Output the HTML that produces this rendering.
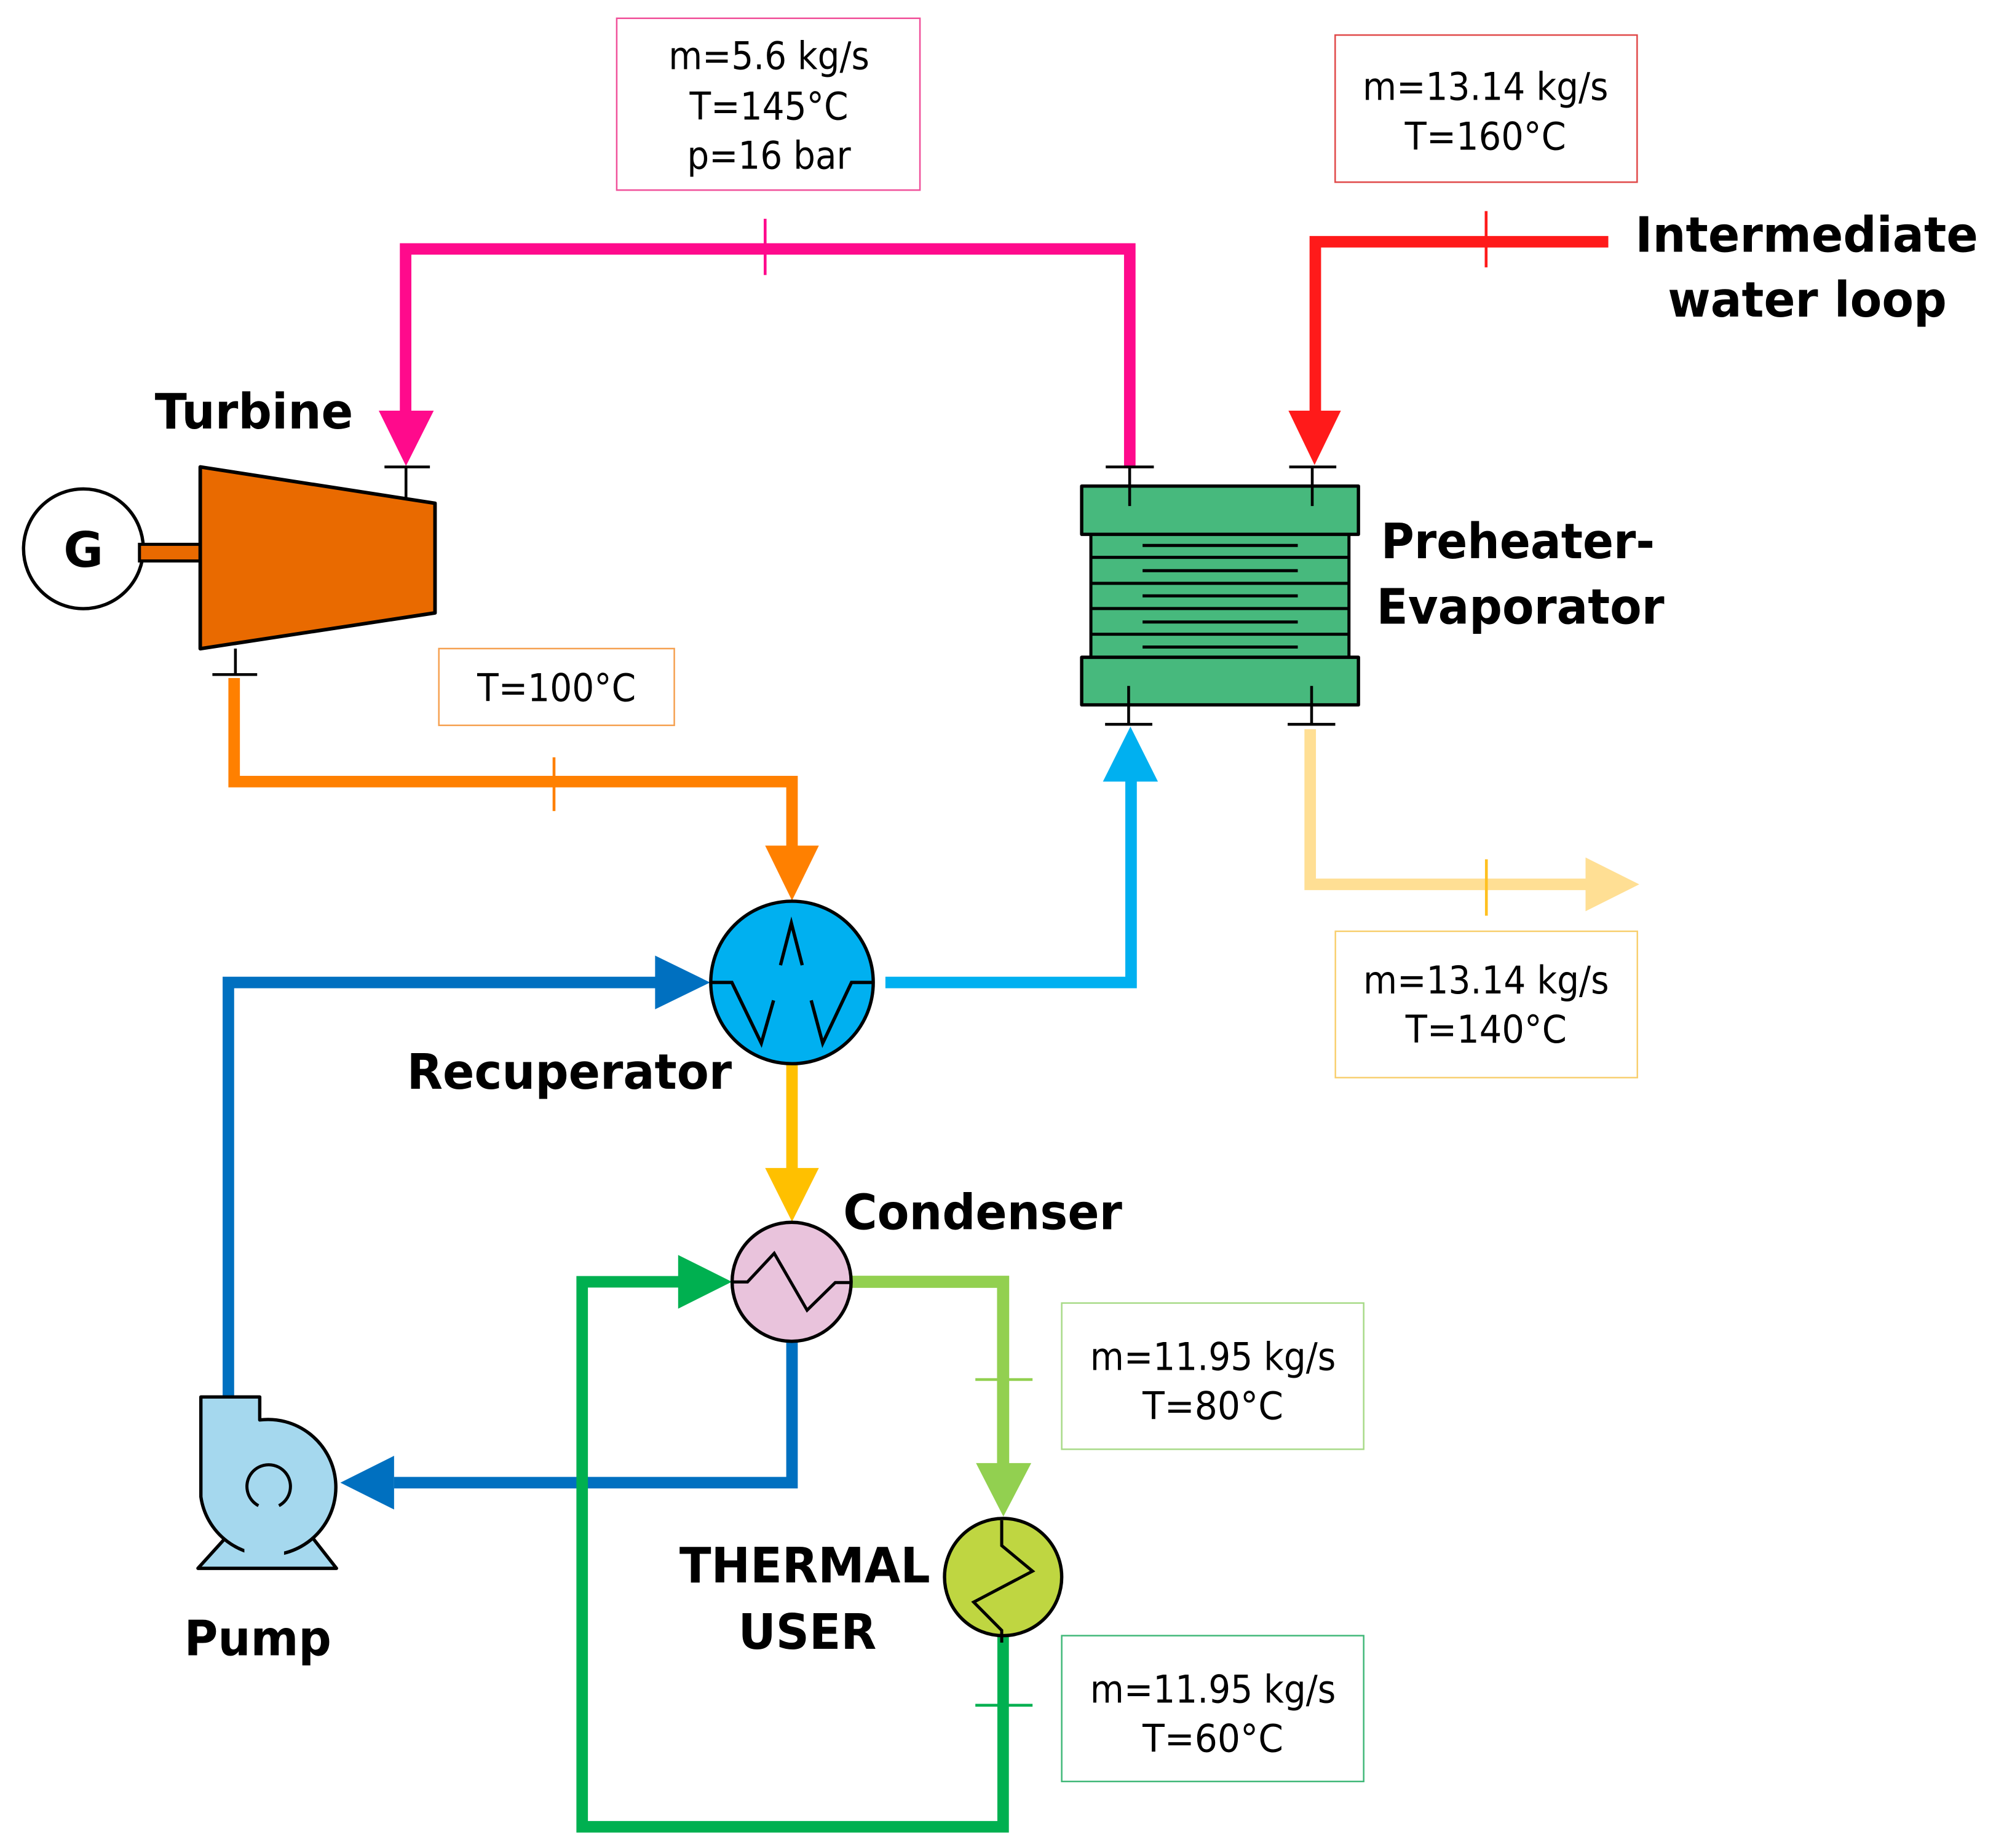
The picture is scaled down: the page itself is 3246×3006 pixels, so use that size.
<!DOCTYPE html>
<html><head><meta charset="utf-8"><style>
html,body{margin:0;padding:0;background:#fff;}
svg{display:block;}
.b{font-family:"DejaVu Sans","Liberation Sans",sans-serif;font-weight:bold;font-size:38px;fill:#000;}
.t{font-family:"DejaVu Sans","Liberation Sans",sans-serif;font-size:30px;fill:#000;text-anchor:middle;}
</style></head><body>
<svg width="3246" height="3006" viewBox="0 0 1560 1444.6" preserveAspectRatio="none" xmlns="http://www.w3.org/2000/svg">
<rect width="1560" height="1444.6" fill="#fff"/>

<!-- Boxes -->
<rect x="482" y="14.3" width="237" height="134.3" fill="none" stroke="#F0509A" stroke-width="1.2"/>
<text class="t" x="601" y="54" textLength="157" lengthAdjust="spacingAndGlyphs">m=5.6 kg/s</text>
<text class="t" x="601" y="93.5" textLength="124" lengthAdjust="spacingAndGlyphs">T=145°C</text>
<text class="t" x="601" y="132" textLength="128" lengthAdjust="spacingAndGlyphs">p=16 bar</text>

<rect x="1043.5" y="27.4" width="236" height="115" fill="none" stroke="#E04848" stroke-width="1.2"/>
<text class="t" x="1161" y="78" textLength="192" lengthAdjust="spacingAndGlyphs">m=13.14 kg/s</text>
<text class="t" x="1161" y="117" textLength="126" lengthAdjust="spacingAndGlyphs">T=160°C</text>

<rect x="343" y="507" width="184" height="60" fill="none" stroke="#F5A050" stroke-width="1.2"/>
<text class="t" x="435" y="548" textLength="124" lengthAdjust="spacingAndGlyphs">T=100°C</text>

<rect x="1043.7" y="728" width="236" height="114.4" fill="none" stroke="#F8CF70" stroke-width="1.2"/>
<text class="t" x="1161.5" y="776.5" textLength="192" lengthAdjust="spacingAndGlyphs">m=13.14 kg/s</text>
<text class="t" x="1161.5" y="815" textLength="126" lengthAdjust="spacingAndGlyphs">T=140°C</text>

<rect x="829.8" y="1018.6" width="236" height="114.3" fill="none" stroke="#A8DA88" stroke-width="1.2"/>
<text class="t" x="948" y="1071" textLength="192" lengthAdjust="spacingAndGlyphs">m=11.95 kg/s</text>
<text class="t" x="948" y="1109.5" textLength="110" lengthAdjust="spacingAndGlyphs">T=80°C</text>

<rect x="829.8" y="1278.6" width="236" height="114" fill="none" stroke="#40B878" stroke-width="1.2"/>
<text class="t" x="948" y="1331" textLength="192" lengthAdjust="spacingAndGlyphs">m=11.95 kg/s</text>
<text class="t" x="948" y="1369.5" textLength="110" lengthAdjust="spacingAndGlyphs">T=60°C</text>

<!-- Pipes -->
<g fill="none" stroke-width="9" stroke-linejoin="miter">
<polyline points="883,366 883,194.6 317,194.6 317,325" stroke="#FF0A8C"/>
<polyline points="1257,189 1028,189 1028,325" stroke="#FF1A1A"/>
<polyline points="183,530 183,611 619,611 619,662" stroke="#FF8000"/>
<polyline points="692,768 884,768 884,604" stroke="#00B0F0"/>
<polyline points="1024,570 1024,691.3 1240,691.3" stroke="#FFDF94"/>
<polyline points="178.5,1094 178.5,768 515,768" stroke="#0070C0"/>
<polyline points="619,1048 619,1159 308,1159" stroke="#0070C0"/>
<polyline points="619,832 619,915" stroke="#FFC000"/>
<polyline points="784,1279 784,1428 455,1428 455,1002 532,1002" stroke="#00B050"/>
<polyline points="665,1002 784,1002 784,1146" stroke="#92D050" stroke-width="9.5"/>
</g>
<!-- Arrowheads -->
<polygon points="296,321 339,321 317.3,364.3" fill="#FF0A8C"/>
<polygon points="1007,321 1048,321 1027.4,363.5" fill="#FF1A1A"/>
<polygon points="598,661 640,661 619,704" fill="#FF8000"/>
<polygon points="862,611 905,611 883.5,568" fill="#00B0F0"/>
<polygon points="1239.2,670.3 1239.2,712.3 1281.2,691.3" fill="#FFDF94"/>
<polygon points="512,747 512,789 555,768" fill="#0070C0"/>
<polygon points="308,1138 308,1180 266,1159" fill="#0070C0"/>
<polygon points="598,913 640,913 619,955" fill="#FFC000"/>
<polygon points="530,981 530,1023 572,1002" fill="#00B050"/>
<polygon points="762.8,1143.7 806,1143.7 784.2,1185.5" fill="#92D050"/>

<!-- Ticks -->
<line x1="598" y1="171" x2="598" y2="215" stroke="#FF0A8C" stroke-width="2.2"/>
<line x1="1161.5" y1="165" x2="1161.5" y2="209" stroke="#FF1A1A" stroke-width="2.2"/>
<line x1="433" y1="592" x2="433" y2="634" stroke="#FF8000" stroke-width="2.2"/>
<line x1="1161.7" y1="671.7" x2="1161.7" y2="715.8" stroke="#FFC020" stroke-width="2.2"/>
<line x1="762.3" y1="1078.4" x2="807" y2="1078.4" stroke="#92D050" stroke-width="2.2"/>
<line x1="762.3" y1="1333" x2="807" y2="1333" stroke="#00B050" stroke-width="2.2"/>

<!-- Generator + turbine -->
<circle cx="65.2" cy="429" r="46.8" fill="#fff" stroke="#000" stroke-width="2.6"/>
<text x="65.2" y="443" font-family="DejaVu Sans,Liberation Sans,sans-serif" font-weight="bold" font-size="38" text-anchor="middle">G</text>
<rect x="109" y="425.5" width="47.5" height="13" fill="#E96A00" stroke="#000" stroke-width="2.4"/>
<polygon points="156.5,365 340,393.4 340,479.1 156.5,507.1" fill="#E96A00" stroke="#000" stroke-width="2.8" stroke-linejoin="round"/>
<line x1="317.3" y1="364.5" x2="317.3" y2="390" stroke="#000" stroke-width="2.2"/>
<line x1="300.5" y1="365" x2="336" y2="365" stroke="#000" stroke-width="2.2"/>
<line x1="184" y1="507" x2="184" y2="527" stroke="#000" stroke-width="2.2"/>
<line x1="166" y1="527.3" x2="201" y2="527.3" stroke="#000" stroke-width="2.2"/>

<!-- Preheater-Evaporator -->
<g stroke="#000" stroke-linejoin="round">
<rect x="852.6" y="417" width="201.7" height="97" fill="#47B97D" stroke-width="2.4"/>
<rect x="845.4" y="380" width="216.3" height="37.7" fill="#47B97D" stroke-width="2.6"/>
<rect x="845.4" y="513.8" width="216.3" height="37.2" fill="#47B97D" stroke-width="2.6"/>
<g stroke-width="2.4">
<line x1="852.6" y1="435.7" x2="1054.3" y2="435.7"/>
<line x1="852.6" y1="456" x2="1054.3" y2="456"/>
<line x1="852.6" y1="475.7" x2="1054.3" y2="475.7"/>
<line x1="852.6" y1="495.8" x2="1054.3" y2="495.8"/>
<line x1="893" y1="426.4" x2="1014.3" y2="426.4"/>
<line x1="893" y1="446.1" x2="1014.3" y2="446.1"/>
<line x1="893" y1="465.8" x2="1014.3" y2="465.8"/>
<line x1="893" y1="486.2" x2="1014.3" y2="486.2"/>
<line x1="893" y1="505.8" x2="1014.3" y2="505.8"/>
</g>
<g stroke-width="2.2">
<line x1="882.9" y1="365" x2="882.9" y2="395.6"/>
<line x1="864.2" y1="365" x2="901.8" y2="365"/>
<line x1="1025.6" y1="365" x2="1025.6" y2="395.6"/>
<line x1="1007.6" y1="365" x2="1044.4" y2="365"/>
<line x1="882.1" y1="536.2" x2="882.1" y2="566.2"/>
<line x1="863.7" y1="566.2" x2="900.6" y2="566.2"/>
<line x1="1025.1" y1="536.2" x2="1025.1" y2="566.2"/>
<line x1="1006.4" y1="566.2" x2="1043.6" y2="566.2"/>
</g>
</g>

<!-- Recuperator -->
<circle cx="619" cy="768" r="63.5" fill="#00B0F0" stroke="#000" stroke-width="2.6"/>
<polyline points="555.5,768 572,768 595,815.5 604.6,782" fill="none" stroke="#000" stroke-width="2.6"/>
<polyline points="634,782 643,815.5 665.5,768 682.5,768" fill="none" stroke="#000" stroke-width="2.6"/>
<polyline points="610,754.5 618.5,721.6 627,754.5" fill="none" stroke="#000" stroke-width="2.6"/>

<!-- Condenser -->
<circle cx="618.7" cy="1002" r="46.5" fill="#E9C3DC" stroke="#000" stroke-width="2.6"/>
<polyline points="572.2,1002.1 584.2,1002.1 605.1,979.7 630.8,1024.2 652.8,1002.6 665.1,1002.6" fill="none" stroke="#000" stroke-width="2.4"/>

<!-- Thermal user -->
<circle cx="784" cy="1232.8" r="45.8" fill="#BFD641" stroke="#000" stroke-width="2.6"/>
<polyline points="782.9,1188.4 782.9,1208.2 807,1228.2 761,1252.4 782.9,1274.5 782.9,1284" fill="none" stroke="#000" stroke-width="2.4"/>

<!-- Pump -->
<polygon points="154.7,1226 175.5,1203 245,1203 263,1226" fill="#A5D8EE" stroke="#000" stroke-width="2.6" stroke-linejoin="round"/>
<path d="M157,1092 H203 V1110 A53,53 0 1,1 157,1170 Z" fill="#A5D8EE" stroke="#000" stroke-width="2.6" stroke-linejoin="round"/>
<rect x="191" y="1205" width="31" height="19" fill="#A5D8EE"/>
<path d="M202,1177 A17,17 0 1,1 218,1177" fill="none" stroke="#000" stroke-width="2.4"/>

<!-- Labels -->
<text class="b" x="121" y="335" textLength="155" lengthAdjust="spacingAndGlyphs">Turbine</text>
<text class="b" x="1278" y="196.7" textLength="268" lengthAdjust="spacingAndGlyphs">Intermediate</text>
<text class="b" x="1303.5" y="247.6" textLength="218" lengthAdjust="spacingAndGlyphs">water loop</text>
<text class="b" x="1079.3" y="436.3" textLength="214" lengthAdjust="spacingAndGlyphs">Preheater-</text>
<text class="b" x="1075.8" y="487.5" textLength="225" lengthAdjust="spacingAndGlyphs">Evaporator</text>
<text class="b" x="318" y="851" textLength="254" lengthAdjust="spacingAndGlyphs">Recuperator</text>
<text class="b" x="659" y="961" textLength="218" lengthAdjust="spacingAndGlyphs">Condenser</text>
<text class="b" x="531" y="1237" textLength="196" lengthAdjust="spacingAndGlyphs">THERMAL</text>
<text class="b" x="577" y="1289" textLength="108" lengthAdjust="spacingAndGlyphs">USER</text>
<text class="b" x="144" y="1294" textLength="115" lengthAdjust="spacingAndGlyphs">Pump</text>
</svg>
</body></html>
